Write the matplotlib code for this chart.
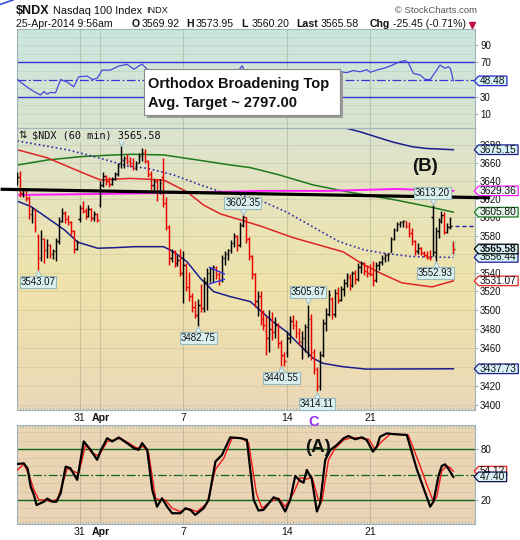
import numpy as np
import matplotlib
matplotlib.use("Agg")
import matplotlib.pyplot as plt
import matplotlib.colors as mcolors
import matplotlib.transforms as mtransforms
from matplotlib.path import Path
from matplotlib.patches import Rectangle
from matplotlib.lines import Line2D
from matplotlib.collections import LineCollection
from matplotlib.ticker import FixedLocator, FixedFormatter, NullLocator, NullFormatter

plt.rcParams['font.family'] = ['Liberation Sans', 'DejaVu Sans']

W, H, DPI = 520, 540, 100

# ---------------------------------------------------------------------------
# $NDX 60-minute bars, 26-Mar-2014 .. 25-Apr-2014 (7 bars per session)
# ---------------------------------------------------------------------------
day_ticks = [21, 28, 56, 91, 119]
day_labels = ['31', 'Apr', '7', '14', '21']

bar_open = [
    3640, 3645, 3627, 3631, 3621, 3604, 3608,      # 26 Mar
    3580, 3556, 3576, 3565, 3570, 3560, 3563,      # 27 Mar
    3574, 3596, 3605, 3598, 3595, 3585, 3566,      # 28 Mar
    3598, 3610, 3607, 3602, 3609, 3599, 3604,      # 31 Mar
    3614, 3636, 3646, 3640, 3637, 3643, 3648,      # 1 Apr
    3660, 3664, 3666, 3662, 3660, 3655, 3660,      # 2 Apr
    3670, 3672, 3663, 3648, 3636, 3640, 3628,      # 3 Apr
    3645, 3616, 3590, 3556, 3562, 3550, 3554,      # 4 Apr
    3540, 3548, 3525, 3515, 3503, 3495, 3505,      # 7 Apr
    3502, 3530, 3540, 3544, 3546, 3538, 3532,      # 8 Apr
    3556, 3560, 3564, 3572, 3580, 3570, 3592,      # 9 Apr
    3600, 3576, 3558, 3538, 3510, 3515, 3490,      # 10 Apr
    3478, 3470, 3480, 3476, 3484, 3465, 3452,      # 11 Apr
    3455, 3470, 3488, 3484, 3475, 3466, 3470,      # 14 Apr
    3482, 3490, 3455, 3438, 3420, 3452, 3486,      # 15 Apr
    3496, 3512, 3496, 3518, 3511, 3522, 3529,      # 16 Apr
    3535, 3527, 3540, 3533, 3546, 3550, 3542,      # 17 Apr
    3540, 3538, 3532, 3548, 3551, 3556, 3559,      # 21 Apr
    3562, 3576, 3586, 3593, 3595, 3596, 3591,      # 22 Apr
    3583, 3574, 3563, 3567, 3561, 3559, 3557,      # 23 Apr
    3600, 3562, 3585, 3596, 3603, 3584, 3590,      # 24 Apr
    3569.92,                                       # 25 Apr
]
bar_high = [
    3650, 3651, 3633, 3632, 3624, 3612, 3609,
    3582, 3586, 3577, 3576, 3571, 3566, 3578,
    3600, 3610, 3607, 3603, 3596, 3586, 3575,
    3614, 3618, 3610, 3614, 3610, 3607, 3605,
    3640, 3650, 3647, 3645, 3645, 3650, 3660,
    3679.40, 3668, 3670, 3667, 3666, 3662, 3671,
    3677, 3676, 3664, 3651, 3643, 3643, 3642,
    3666, 3622, 3592, 3566, 3564, 3559, 3566,
    3563, 3550, 3541, 3518, 3510, 3512, 3528,
    3535, 3545, 3546, 3548, 3547, 3541, 3559,
    3563, 3566, 3575, 3583, 3581, 3595, 3602.35,
    3601, 3579, 3559, 3540, 3520, 3520, 3500,
    3494, 3500, 3498, 3492, 3486, 3468, 3455,
    3478, 3493, 3495, 3489, 3481, 3478, 3485,
    3505.67, 3496, 3458, 3440, 3456, 3490, 3502,
    3521, 3514, 3522, 3525, 3526, 3533, 3540,
    3538, 3542, 3543, 3550, 3553, 3551, 3548,
    3549, 3553, 3552, 3553, 3559, 3561, 3561,
    3579, 3588, 3595, 3596, 3597, 3596, 3595,
    3588, 3575, 3572, 3568, 3563, 3563, 3564,
    3613.20, 3590, 3599, 3607, 3606, 3594, 3600,
    3573.95,
]
bar_low = [
    3636, 3622, 3622, 3618, 3598, 3594, 3584,
    3543.07, 3553, 3550, 3556, 3556, 3555, 3553,
    3571, 3595, 3594, 3592, 3581, 3561, 3565,
    3595, 3605, 3598, 3601, 3596, 3596, 3595,
    3612, 3634, 3636, 3634, 3636, 3641, 3646,
    3655, 3655, 3659, 3656, 3652, 3653, 3660,
    3663, 3660, 3645, 3630, 3630, 3618, 3626,
    3612, 3586, 3548, 3551, 3546, 3547, 3536,
    3507, 3520, 3510, 3498, 3491, 3482.75, 3498,
    3498, 3500, 3530, 3530, 3533, 3527, 3530,
    3548, 3554, 3561, 3568, 3563, 3568, 3590,
    3572, 3554, 3533, 3503, 3493, 3484, 3479,
    3452, 3455, 3468, 3470, 3460, 3440.55, 3441,
    3450, 3465, 3480, 3470, 3463, 3448, 3455,
    3450, 3447, 3432, 3414.11, 3416, 3450, 3478,
    3494, 3490, 3492, 3507, 3510, 3515, 3525,
    3521, 3524, 3528, 3531, 3540, 3537, 3535,
    3536, 3526, 3530, 3543, 3548, 3552, 3553,
    3562, 3575, 3585, 3590, 3590, 3588, 3579,
    3570, 3559, 3560, 3559, 3557, 3555, 3554,
    3558, 3552.93, 3578, 3594, 3582, 3583, 3587,
    3560.20,
]
bar_close = [
    3645, 3627, 3631, 3621, 3604, 3608, 3588,
    3556, 3576, 3565, 3570, 3560, 3563, 3574,
    3596, 3605, 3598, 3595, 3585, 3566, 3573,
    3610, 3607, 3602, 3609, 3599, 3604, 3597,
    3636, 3646, 3640, 3637, 3643, 3648, 3657,
    3664, 3666, 3662, 3660, 3655, 3660, 3668,
    3672, 3663, 3648, 3636, 3640, 3628, 3638,
    3616, 3590, 3556, 3562, 3550, 3554, 3540,
    3548, 3525, 3515, 3503, 3495, 3505, 3502,
    3530, 3540, 3544, 3546, 3538, 3532, 3556,
    3560, 3564, 3572, 3580, 3570, 3592, 3600,
    3576, 3558, 3538, 3510, 3515, 3490, 3484,
    3470, 3480, 3476, 3484, 3465, 3452, 3446,
    3470, 3488, 3484, 3475, 3466, 3470, 3482,
    3490, 3455, 3438, 3420, 3452, 3486, 3496,
    3516, 3496, 3518, 3511, 3522, 3529, 3537,
    3527, 3540, 3533, 3546, 3550, 3542, 3540,
    3538, 3532, 3548, 3551, 3556, 3559, 3560,
    3576, 3586, 3593, 3595, 3596, 3591, 3583,
    3574, 3563, 3567, 3561, 3559, 3557, 3556,
    3562, 3585, 3596, 3603, 3584, 3590, 3591.03,
    3565.58,
]

# price overlays (bar position, value)
ma_green_x = [0.2, 10.3, 21.5, 32.8, 38.8, 49.3, 60.6, 71.8, 78.6, 88.3, 99.7, 110.9, 117.6, 127.4, 138.7, 147]
ma_green_y = [3658.1, 3663.7, 3667.4, 3669.3, 3670.0, 3669.3, 3663.7, 3658.1, 3655.1, 3647.0, 3635.9, 3628.5,
              3624.8, 3619.3, 3611.9, 3605.80]
ma_dotted_x = [0, 16.8, 28.0, 37.0, 43.8, 52.7, 61.7, 68.5, 75.2, 82.3, 90.7, 99.7, 108.5, 117.0, 123.0, 133.1, 147]
ma_dotted_y = [3685.0, 3675.1, 3665.6, 3657.0, 3654.4, 3647.0, 3635.9, 3628.5, 3624.8, 3618.2, 3606.1, 3589.6,
               3573.6, 3564.5, 3561.3, 3557.3, 3556.44]
ma_red_x = [0, 10.2, 21.3, 28.0, 38.1, 49.3, 57.3, 62.7, 68.5, 75.2, 81.9, 93.0, 109.9, 116.3, 123.0, 129.7, 139.8, 147]
ma_red_y = [3675.1, 3666.0, 3650.4, 3641.4, 3643.1, 3641.4, 3628.1, 3613.8, 3603.9, 3597.3, 3590.7, 3577.9,
            3562.4, 3549.4, 3538.6, 3528.9, 3524.6, 3531.07]
band_low_x = [0.2, 4.7, 10.3, 15.9, 20.4, 27.1, 32.8, 39.5, 49.3, 52.6, 57.2, 61.7, 66.2, 71.8, 78.6, 81.7,
              86.2, 90.7, 95.2, 99.7, 103.0, 109.8, 117.6, 147]
band_low_y = [3617.7, 3611.9, 3599.1, 3586.4, 3572.9, 3566.4, 3567.0, 3568.1, 3568.1, 3562.7, 3551.8, 3533.9,
              3519.5, 3514.2, 3508.8, 3499.9, 3487.5, 3476.8, 3462.8, 3448.8, 3443.5, 3439.9, 3437.4, 3437.73]
band_high_x = [108.5, 110.9, 115.6, 126.8, 133.1, 138.0, 147]
band_high_y = [3705.0, 3699.3, 3695.2, 3683.5, 3678.5, 3676.5, 3675.15]
pivot_x = [0, 28.0, 43.8, 72.8, 81.9, 105.2, 127.4, 147]
pivot_y = [3624.8, 3625.9, 3626.7, 3628.5, 3629.3, 3629.3, 3631.4, 3629.36]
trend_x = [-5.62, 159.4]
trend_y = [3631.1, 3621.7]
pennant_top_x, pennant_top_y = [64.8, 69.8], [3545.8, 3538.6]
pennant_bot_x, pennant_bot_y = [64.8, 69.8], [3527.8, 3532.8]

note_low_bars = [7, 61, 89, 101, 141]
note_high_bars = [76, 98, 140]
peak_bar = 35

# RSI (upper panel)
rsi_x = [0, 1.1, 3, 5.6, 7.8, 9, 10.1, 11.2, 12.9, 14.6, 16.8, 19, 20.7, 23.6, 25.3, 26.9, 28.6, 31.4, 34.2,
         37, 39.3, 42, 45, 49, 52, 56, 61, 66, 71, 74, 75.8, 78, 82, 86, 89, 94, 98, 101, 104, 107, 108.9,
         111.1, 113.3, 115.6, 117.8, 119, 121.2, 123.4, 125.7, 129, 130.7, 131.8, 133.5, 135.8, 137.5, 139.2,
         141.4, 142.5, 144.2, 145.3, 146, 147]
rsi_v = [50, 47, 42, 36, 32, 36, 33, 35, 34.6, 50, 47, 41.6, 53.3, 54, 50, 51.4, 61, 61, 65.7,
         67.7, 62, 68, 58, 42, 33, 30, 27, 40, 50, 58, 66, 50, 34, 30, 25, 33, 40, 26, 42, 52, 59,
         58, 60.5, 59, 61.5, 58.5, 61, 63, 65.7, 70.7, 72, 69.5, 57.2, 55.2, 50.2, 50,
         61, 66.9, 63, 64.9, 63, 48.48]

# Slow stochastic (lower panel): %K black, %D red
stk_x = [0, 2.2, 3.5, 4.5, 5.6, 6.5, 9, 10.1, 11.8, 13.2, 14.6, 16.3, 17.9, 20.2, 22.4, 24.7, 26.9, 28, 30.3,
         32, 34.2, 37, 39.3, 40.9, 42.1, 43.8, 45.5, 47.1, 48.8, 50.5, 52.2, 55, 56.7, 58.4, 60, 62.8, 64.5,
         66.8, 69, 71.8, 75.2, 77.4, 79.7, 81.3, 83, 86.4, 88.1, 90.3, 92, 93.7, 95.4, 96.5, 97.6, 99.3, 101,
         102.1, 103.8, 105.5, 107.7, 110, 111.6, 113.9, 116.2, 117.8, 119.9, 121.2, 122.3, 124.6, 126.8, 131.3,
         134.7, 136.9, 139.2, 140.3, 142, 143.1, 144.2, 145.3, 147]
stk_k = [62.6, 63.4, 57, 35.8, 26, 14, 18, 21.6, 18, 18, 28, 59.5, 57.6, 43.8, 89.3, 79.4, 67.6, 77.5, 93.2,
         89.3, 94, 87.3, 81.4, 79.4, 87.3, 79.4, 32, 12.1, 22, 12.1, 4.3, 4.3, 10.2, 8, 2.3, 10.2, 20,
         65.5, 73.3, 94.2, 93.2, 91.2, 20, 7.5, 8.3, 23.1, 20.8, 6.3, 20, 48.4, 42.5, 40.5, 55.5, 44.6, 6.3,
         16.1, 67.3, 79.2, 85.1, 93, 95.8, 91.9, 94.2, 91, 77.3, 83.3, 95, 98.9, 98, 97,
         56.3, 34.6, 12.1, 18, 48.4, 60.3, 62.2, 57.1, 47.40]
std_x = [0, 2.2, 3.9, 5.6, 7.3, 9.5, 11.2, 13.5, 15.2, 16.8, 19.1, 20.7, 23, 25.3, 27.5, 30.3, 32.5, 34.8, 37.6,
         40.4, 42.6, 44.3, 46.6, 48.2, 49.9, 52.2, 55, 57.2, 60.6, 64, 66.8, 69.6, 72.4, 75.8, 78, 80.6, 82.5,
         85.3, 88.1, 90.3, 93.1, 95.4, 97.6, 99.3, 101.5, 102.7, 104.9, 107.2, 110, 112.8, 115.6, 118.4, 120.6,
         122.9, 125.7, 131.8, 135.8, 138, 140.3, 141.4, 143.1, 144.8, 145.9, 147]
std_d = [55.5, 62.6, 50, 32, 20, 20, 18, 20.8, 37.7, 57.6, 53.6, 51.6, 85, 75.3, 72.2, 89.3, 91, 93.2, 87.3,
         81.4, 83.3, 75.4, 22, 20, 20, 10.2, 6.3, 10.2, 6.3, 16.1, 56.3, 69.4, 93.2, 93.2, 87.3, 28, 10.2,
         18, 22, 12.1, 28, 46.5, 44.6, 47.6, 20, 18, 67.5, 81.4, 91, 94, 93, 92, 80,
         89.3, 98, 97, 60.3, 38.6, 18, 24, 54.4, 60.3, 58.3, 54.12]

price_ticks = list(range(3400, 3681, 20))
price_tick_text = ['' if v in (3440, 3560) else str(v) for v in price_ticks]
rsi_ticks = [10, 30, 70, 90]
sto_ticks = [20, 80]

# ---------------------------------------------------------------------------
fig = plt.figure(figsize=(W / DPI, H / DPI), dpi=DPI)
fig.patch.set_facecolor('white')


def frect(x0, y0, x1, y1):
    return [x0 / W, 1 - y1 / H, (x1 - x0) / W, (y1 - y0) / H]


def fxy(x, y):
    return x / W, 1 - y / H


PANEL_L, PANEL_R = 16.7, 475.0
panel_rows = {'rsi': (29.3, 128.3), 'price': (128.3, 410.0), 'sto': (425.0, 524.3)}
panel_fill = {
    'rsi': [(0, '#cbe6df'), (1, '#d9e4cf')],
    'price': [(0, '#dbe3cf'), (0.3, '#e8e4ba'), (0.55, '#efe3ab'), (1, '#ebd9b8')],
    'sto': [(0, '#ebd6b4'), (1, '#e9d3b4')],
}
SPINE = '#9fb3b9'
axs = {}
for name, (y0, y1) in panel_rows.items():
    r = frect(PANEL_L, y0, PANEL_R, y1)
    bg = fig.add_axes(r, zorder=0)
    stops = panel_fill[name]
    t = np.linspace(0, 1, 256)
    rgb = [mcolors.to_rgb(c) for _, c in stops]
    pos = [p for p, _ in stops]
    img = np.stack([np.interp(t, pos, [c[k] for c in rgb]) for k in range(3)], axis=-1)[:, None, :]
    bg.imshow(img, aspect='auto', extent=(0, 1, 0, 1), origin='upper', interpolation='bilinear')
    bg.set_axis_off()
    a = fig.add_axes(r, zorder=1)
    a.patch.set_alpha(0)
    a.set_xlim(-0.2, 154.3)
    a.set_xticks([])
    for s in a.spines.values():
        s.set_color(SPINE)
        s.set_linewidth(0.8)
    a.yaxis.tick_right()
    a.tick_params(axis='y', which='major', direction='out', length=2.2, width=0.6, color='#8a9ca2',
                  labelsize=7, pad=1.5, labelcolor='#111111')
    for d in day_ticks:
        a.axvline(d, color=(0.35, 0.45, 0.35, 0.25), lw=0.8, zorder=0.5)
    axs[name] = a

ax_r, ax, ax_s = axs['rsi'], axs['price'], axs['sto']

for a in (ax, ax_s):
    a.xaxis.set_minor_locator(FixedLocator(np.arange(0, 155)))
    a.tick_params(axis='x', which='minor', direction='in', length=2, width=0.5, color=SPINE,
                  bottom=True, top=(a is ax_s))


def tag_shape(x0, y0, width, height, mutation_size):
    padx = 0.14 * mutation_size
    pady = -0.02 * mutation_size
    x0, y0 = x0 - padx, y0 - pady
    x1, y1 = x0 + width + 2 * padx, y0 + height + 2 * pady
    tip = 0.45 * (y1 - y0)
    return Path([(x0, y0), (x1, y0), (x1, y1), (x0, y1), (x0 - tip, 0.5 * (y0 + y1)), (x0, y0)], closed=True)


def value_tag(a, value, edge, face='#d8f3f8', bold=False, z=7):
    a.annotate(f'{value:.2f}', xy=(1, value), xycoords=a.get_yaxis_transform(), xytext=(5, 0),
               textcoords='offset pixels', ha='left', va='center', fontsize=7.3,
               fontweight='bold' if bold else 'normal', color='#111111',
               bbox=dict(boxstyle=tag_shape, fc=face, ec=edge, lw=0.9),
               annotation_clip=False, zorder=z)


# ---------------- RSI panel ----------------
ax_r.set_ylim(-6.7, 108.4)
for v in range(0, 101, 10):
    if v not in (30, 50, 70):
        ax_r.axhline(v, color=(0, 0, 0, 0.06), lw=0.7, zorder=0.4)
ax_r.axhline(70, color='#3535d0', lw=1.0)
ax_r.axhline(30, color='#3535d0', lw=1.0)
ax_r.axhline(50, color='#3535d0', lw=0.9, dashes=(7, 2, 1.5, 2))
ax_r.plot(rsi_x, rsi_v, color='#4848d8', lw=0.9, zorder=3)
ax_r.yaxis.set_major_locator(FixedLocator(rsi_ticks))
ax_r.yaxis.set_major_formatter(FixedFormatter([str(v) for v in rsi_ticks]))
value_tag(ax_r, rsi_v[-1], '#2a2ad0')

# ---------------- price panel ----------------
ax.set_yscale('log')
ax.set_ylim(3394.8, 3699.2)
ax.yaxis.set_major_locator(FixedLocator(price_ticks))
ax.yaxis.set_major_formatter(FixedFormatter(price_tick_text))
ax.yaxis.set_minor_locator(NullLocator())
ax.yaxis.set_minor_formatter(NullFormatter())
for v in price_ticks:
    ax.axhline(v, color=(0, 0, 0, 0.07), lw=0.7, zorder=0.4)

n = len(bar_close)
idx = np.arange(n)
prev_close = np.r_[bar_open[0], bar_close[:-1]]
bar_col = np.where(np.asarray(bar_close) >= prev_close, '#000000', '#e80000')

# highlight behind the live bar
ax.add_patch(Rectangle((n - 1 - 0.7, bar_low[-1] - 1.5), 1.4, bar_high[-1] - bar_low[-1] + 3,
                       fc='#cdeec6', ec='#b8e0b2', lw=0.6, zorder=1))

segs, cols = [], []
for i in idx:
    segs += [[(i, bar_low[i]), (i, bar_high[i])],
             [(i - 0.45, bar_open[i]), (i, bar_open[i])],
             [(i, bar_close[i]), (i + 0.45, bar_close[i])]]
    cols += [bar_col[i]] * 3
ax.add_collection(LineCollection(segs, colors=cols, linewidths=1.05, zorder=3))

ax.plot(ma_green_x, ma_green_y, color='#1c7a1c', lw=1.1, zorder=2.5)
ax.plot(ma_red_x, ma_red_y, color='#e02424', lw=1.1, zorder=2.5)
ax.plot(ma_dotted_x, ma_dotted_y, color='#2c2ca8', lw=1.2, ls=(0, (1, 1.6)), zorder=2.5)
ax.plot(band_low_x, band_low_y, color='#1c1c8c', lw=1.1, zorder=2.5)
ax.plot(band_high_x, band_high_y, color='#1c1c8c', lw=1.1, zorder=2.5)
ax.plot(pivot_x, pivot_y, color='#ff1cff', lw=1.4, zorder=2.5)
ax.plot(trend_x, trend_y, color='#000000', lw=2.3, zorder=4, clip_on=False, solid_capstyle='butt')
ax.plot(pennant_top_x, pennant_top_y, color='#3434e8', lw=1.0, zorder=4)
ax.plot(pennant_bot_x, pennant_bot_y, color='#3434e8', lw=1.0, zorder=4)
ax.plot([n - 0.3, 154.3], [bar_close[-2]] * 2, color='#2020b0', lw=1.0, dashes=(3, 2), zorder=3)

NOTE_FC, NOTE_EC = '#dbf1f1', '#98b8bc'


def note_pointer(i, value, above):
    sgn = 1 if above else -1
    tr = mtransforms.offset_copy(ax.transData, fig=fig, x=0, y=sgn * 3.3, units='dots')
    ax.plot([i], [value], marker='v' if above else '^', ms=4.6, mfc=NOTE_FC, mec=NOTE_EC, mew=0.6,
            transform=tr, zorder=6, clip_on=False)


def price_note(i, value, above):
    sgn = 1 if above else -1
    ax.annotate(f'{value:.2f}', xy=(i, value), xytext=(0, sgn * 7.2), textcoords='offset pixels',
                ha='center', va='bottom' if above else 'top', fontsize=7, color='#111111',
                bbox=dict(boxstyle='square,pad=0.1', fc=NOTE_FC, ec=NOTE_EC, lw=0.8),
                zorder=6, annotation_clip=False)
    note_pointer(i, value, above)


for i in note_low_bars:
    price_note(i, bar_low[i], above=False)
for i in note_high_bars:
    price_note(i, bar_high[i], above=True)
# the peak's value box sits under the panel legend; only its pointer shows
note_pointer(peak_bar, bar_high[peak_bar], above=True)

value_tag(ax, band_high_y[-1], '#1c1c8c')
value_tag(ax, pivot_y[-1], '#ff1cff', face='#eef4f6')
value_tag(ax, ma_green_y[-1], '#1c7a1c', face='#e4f4ea')
value_tag(ax, ma_dotted_y[-1], '#1c1c8c')
value_tag(ax, bar_close[-1], '#000000', bold=True, z=8)
value_tag(ax, ma_red_y[-1], '#e02424', face='#fbfbfb')
value_tag(ax, band_low_y[-1], '#1c1c8c')

# ---------------- stochastic panel ----------------
ax_s.set_ylim(-8.8, 108.8)
for v in range(0, 101, 10):
    if v not in (20, 50, 80):
        ax_s.axhline(v, color=(0, 0, 0, 0.06), lw=0.7, zorder=0.4)
ax_s.axhline(80, color='#10661e', lw=1.0)
ax_s.axhline(20, color='#10661e', lw=1.0)
ax_s.axhline(50, color='#10661e', lw=0.9, dashes=(7, 2, 1.5, 2))
ax_s.plot(std_x, std_d, color='#f01818', lw=1.0, zorder=3)
ax_s.plot(stk_x, stk_k, color='#000000', lw=1.6, zorder=3.5)
ax_s.yaxis.set_major_locator(FixedLocator(sto_ticks))
ax_s.yaxis.set_major_formatter(FixedFormatter([str(v) for v in sto_ticks]))
value_tag(ax_s, std_d[-1], '#e02424', face='#fbf3f3')
value_tag(ax_s, stk_k[-1], '#10104a', z=8)

# date labels between and below the panels
for a, yfrac in ((ax, -0.030), (ax_s, -0.075)):
    for d, lab in zip(day_ticks, day_labels):
        a.text(d, yfrac, lab, transform=a.get_xaxis_transform(), ha='center', va='center',
               fontsize=7.6, fontweight='bold' if lab == 'Apr' else 'normal', color='#111111')

# ---------------- header ----------------
fig.text(*fxy(16, 10.7), '$NDX', fontsize=9, fontweight='bold', va='center', color='#111111')
fig.text(*fxy(53.3, 10.9), 'Nasdaq 100 Index', fontsize=7.9, va='center', color='#111111')
fig.text(*fxy(146, 10.9), 'INDX', fontsize=6.6, va='center', color='#111111')
fig.text(*fxy(476.7, 10.9), '\u00a9 StockCharts.com', fontsize=6.8, va='center', ha='right', color='#555555')

chg = bar_close[-1] - bar_close[-2]
pct = 100 * chg / bar_close[-2]
hdr = [
    (16, '25-Apr-2014 9:56am', 'normal'),
    (131.7, 'O', 'bold'), (141.7, f'{bar_open[-1]:.2f}', 'normal'),
    (186, 'H', 'bold'), (196, f'{bar_high[-1]:.2f}', 'normal'),
    (241.7, 'L', 'bold'), (251.7, f'{bar_low[-1]:.2f}', 'normal'),
    (296.7, 'Last', 'bold'), (320.7, f'{bar_close[-1]:.2f}', 'normal'),
    (369.3, 'Chg', 'bold'), (393.3, f'{chg:.2f} ({pct:.2f}%)', 'normal'),
]
for x, s, w in hdr:
    fig.text(*fxy(x, 24), s, fontsize=7.6, fontweight=w, va='center', color='#111111')
fig.add_artist(Line2D([fxy(472, 24.5)[0]], [fxy(472, 24.5)[1]], marker='v', ms=4.5, color='#c01040',
                      transform=fig.transFigure))
fig.add_artist(Line2D([fxy(0, 4.5)[0], fxy(13, 0)[0]], [fxy(0, 4.5)[1], fxy(13, 0)[1]],
                      color='#3a4ee0', lw=1.2, transform=fig.transFigure))

# legend of the price panel
fig.text(*fxy(18, 135), '\u21c5', fontsize=7.5, family=['DejaVu Sans'], va='center', color='#111111')
fig.text(*fxy(31.7, 135), f'$NDX (60 min) {bar_close[-1]:.2f}', fontsize=7.4, family=['DejaVu Sans Mono'],
         va='center', color='#111111', zorder=4,
         bbox=dict(boxstyle='square,pad=0.08', fc='#dbe3cf', ec='none'))

# pattern note
x0, y0, x1, y1 = 144.3, 69.3, 340.0, 115.0
fig.add_artist(Rectangle(fxy(x0 + 2.5, y1 + 2.5), (x1 - x0) / W, (y1 - y0) / H, transform=fig.transFigure,
                         fc='#9a9a9a', ec='none', zorder=5))
fig.add_artist(Rectangle(fxy(x0, y1), (x1 - x0) / W, (y1 - y0) / H, transform=fig.transFigure,
                         fc='white', ec='#8a8a8a', lw=0.8, zorder=5.1))
fig.text(*fxy(147.5, 84.3), 'Orthodox Broadening Top', fontsize=10.5, fontweight='bold', va='center',
         color='#111111', zorder=6)
fig.text(*fxy(147.5, 103.3), 'Avg. Target ~ 2797.00', fontsize=10.5, fontweight='bold', va='center',
         color='#111111', zorder=6)

# wave labels
fig.text(*fxy(425, 166.7), '(B)', fontsize=13.5, fontweight='bold', ha='center', va='center', color='#111111')
fig.text(*fxy(317.5, 448), '(A)', fontsize=13.5, fontweight='bold', ha='center', va='center', color='#111111')
fig.text(*fxy(313.3, 422), 'C', fontsize=10.5, fontweight='bold', ha='center', va='center', color='#9b30f0')

fig.savefig('out.png', dpi=DPI)
